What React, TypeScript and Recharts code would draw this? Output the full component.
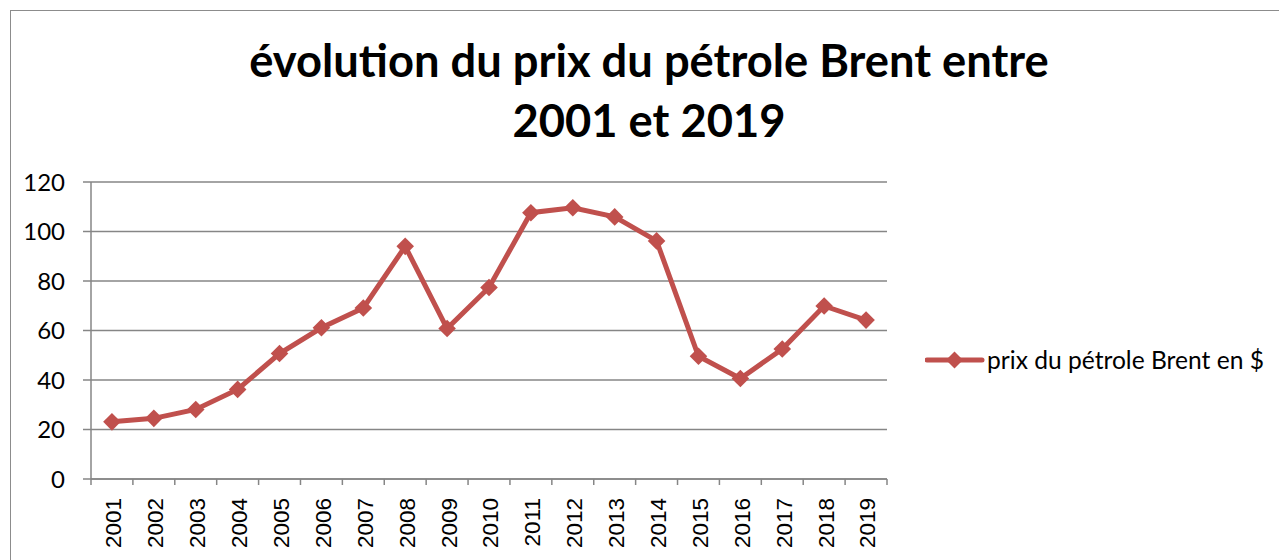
import React from 'react';
import { LineChart, Line, XAxis, YAxis, CartesianGrid, Legend } from 'recharts';

const years = ['2001', '2002', '2003', '2004', '2005', '2006', '2007', '2008', '2009', '2010',
  '2011', '2012', '2013', '2014', '2015', '2016', '2017', '2018', '2019'];
const prices = [23.1, 24.5, 28.1, 36.2, 50.7, 61.1, 69.1, 94.0, 60.8, 77.4,
  107.6, 109.6, 105.9, 96.2, 49.6, 40.6, 52.5, 69.9, 64.2];
const yTicks = [0, 20, 40, 60, 80, 100, 120];
const seriesName = 'prix du pétrole Brent en $';
const titleLines = ['évolution du prix du pétrole Brent entre', '2001 et 2019'];

const data = years.map((year, i) => ({ year, price: prices[i] }));

const RED = '#C0504D';
const GRID = '#868686';
const FONT = 'Lato, "Open Sans", sans-serif';
const ARIAL = '"Liberation Sans", Arial, sans-serif';
const PLOT_LEFT = 91;
const PLOT_RIGHT = 887;
const STEP = (PLOT_RIGHT - PLOT_LEFT) / years.length;

const Diamond = (props: any) => {
  const { cx, cy, index } = props;
  if (cx == null || cy == null) return null;
  const r = 8.8;
  return (
    <polygon
      key={`d-${index}`}
      points={`${cx},${cy - r} ${cx + r},${cy} ${cx},${cy + r} ${cx - r},${cy}`}
      fill={RED}
    />
  );
};

const YearTick = (props: any) => {
  const { x, y, payload, index } = props;
  const last = index === years.length - 1;
  const ty = y + 19;
  return (
    <g>
      <line x1={x - STEP / 2} y1={y} x2={x - STEP / 2} y2={y + 6} stroke={GRID} strokeWidth={1.5} />
      {last && <line x1={x + STEP / 2} y1={y} x2={x + STEP / 2} y2={y + 6} stroke={GRID} strokeWidth={1.5} />}
      <text
        x={x}
        y={ty}
        transform={`rotate(-90, ${x}, ${ty})`}
        textAnchor="end"
        dy="0.42em"
        fontFamily={ARIAL}
        fontSize={22.5}
        fill="#000"
      >
        {payload.value}
      </text>
    </g>
  );
};

const LegendBox = () => (
  <div style={{ display: 'flex', alignItems: 'center', fontFamily: FONT, fontSize: 24.6, color: '#000', whiteSpace: 'nowrap' }}>
    <svg width={60} height={20} style={{ marginRight: 2 }}>
      <line x1={2} y1={10} x2={57} y2={10} stroke={RED} strokeWidth={5} strokeLinecap="round" />
      <polygon points="29.5,1.5 38,10 29.5,18.5 21,10" fill={RED} />
    </svg>
    <span>{seriesName}</span>
  </div>
);

export default function App() {
  return (
    <div style={{ position: 'absolute', left: 0, top: 0, width: 1279, height: 560, background: '#fff', overflow: 'hidden' }}>
      <div style={{ position: 'absolute', left: 10, top: 10, width: 1300, height: 600, border: '1.5px solid #8c8c8c', boxSizing: 'border-box' }} />
      <div style={{ position: 'absolute', left: 0, top: 30, width: 1298, textAlign: 'center', fontFamily: FONT, fontWeight: 700, fontSize: 45.3, lineHeight: '60px', color: '#000' }}>
        {titleLines.map((t) => <div key={t}>{t}</div>)}
      </div>
      <LineChart width={1279} height={560} data={data} margin={{ top: 182, right: 1279 - PLOT_RIGHT, bottom: 0, left: 0 }}>
        <CartesianGrid vertical={false} stroke={GRID} strokeWidth={1.5} />
        <XAxis dataKey="year" height={81} interval={0} tickLine={false} tickSize={0} tickMargin={0}
          padding={{ left: STEP / 2, right: STEP / 2 }}
          axisLine={{ stroke: GRID, strokeWidth: 1.5 }} tick={<YearTick />} />
        <YAxis width={PLOT_LEFT} domain={[0, 120]} ticks={yTicks} interval={0} tickSize={8} tickMargin={18}
          axisLine={{ stroke: GRID, strokeWidth: 1.5 }} tickLine={{ stroke: GRID, strokeWidth: 1.5 }}
          tick={{ fontFamily: FONT, fontSize: 24, fill: '#000' }} />
        <Legend align="center" verticalAlign="middle" content={<LegendBox />}
          wrapperStyle={{ left: 925, top: 345, width: 'auto' }} />
        <Line dataKey="price" name={seriesName} stroke={RED} strokeWidth={5} dot={<Diamond />}
          activeDot={false} isAnimationActive={false} />
      </LineChart>
    </div>
  );
}
